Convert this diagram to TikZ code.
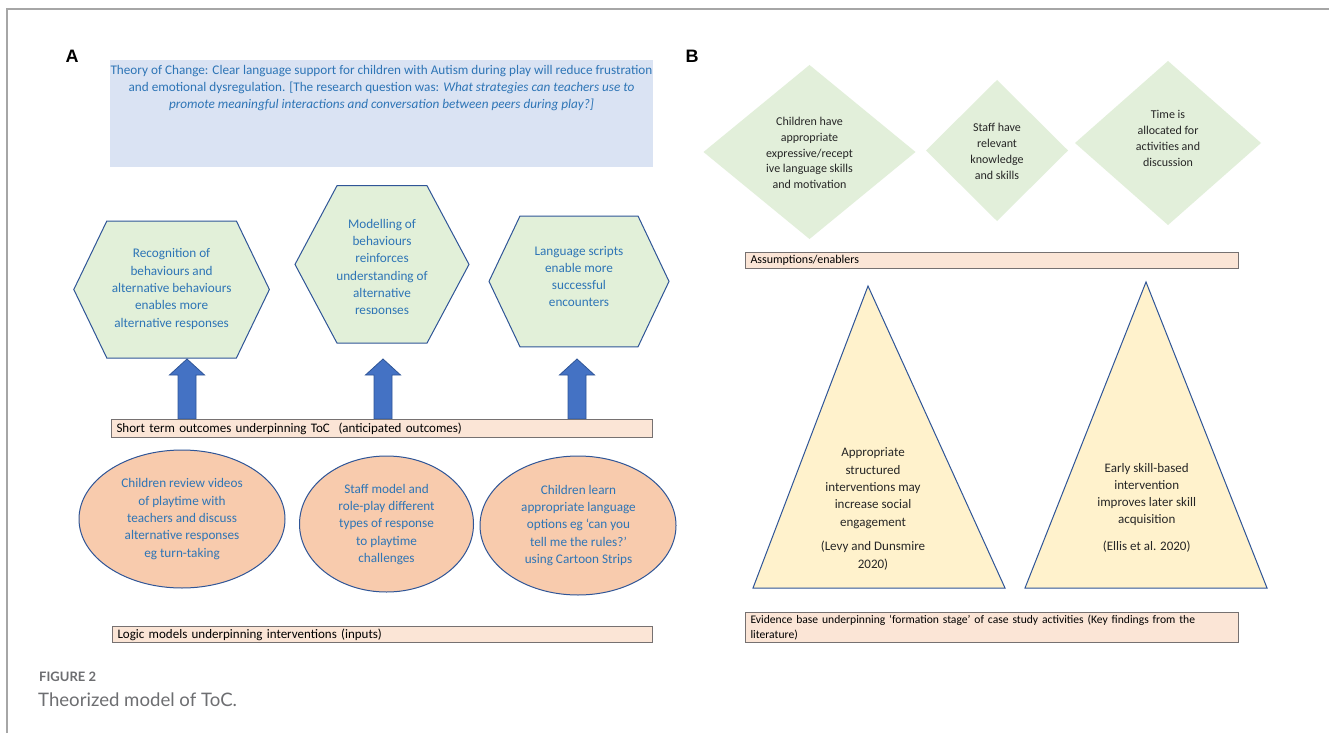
\documentclass[tikz,border=0pt]{standalone}
\usepackage{fontspec}
\setmainfont{Carlito}
\newfontfamily\arialfont{Liberation Sans}
\newfontfamily\capfont{Lato}
\usetikzlibrary{shapes.geometric}
\definecolor{txtblue}{HTML}{2E75B6}
\definecolor{hexfill}{HTML}{E2F0D9}
\definecolor{shapeline}{HTML}{2F5597}
\definecolor{ellfill}{HTML}{F8CBAD}
\definecolor{barfill}{HTML}{FBE5D6}
\definecolor{barline}{HTML}{767171}
\definecolor{tocfill}{HTML}{DAE3F3}
\definecolor{dfill}{HTML}{E2EFDA}
\definecolor{trifill}{HTML}{FFF2CC}
\definecolor{arrowfill}{HTML}{4472C4}
\definecolor{framegray}{HTML}{A6A6A6}
\definecolor{capgray}{HTML}{6D6E71}
\definecolor{darktext}{HTML}{262626}
\tikzset{
  hexstyle/.style={fill=hexfill, draw=shapeline, line width=1pt},
  ellstyle/.style={ellipse, fill=ellfill, draw=shapeline, line width=1pt, inner sep=0pt},
  barstyle/.style={rectangle, fill=barfill, draw=barline, line width=1pt, anchor=north west, align=left, inner xsep=5pt, inner ysep=0pt, font=\fontsize{13}{14.3}\selectfont},
  arrowstyle/.style={fill=arrowfill, draw=shapeline, line width=0.8pt},
  dstyle/.style={fill=dfill, draw=none},
  tristyle/.style={fill=trifill, draw=shapeline, line width=1pt, line join=miter},
  btext/.style={text=txtblue, align=center, inner sep=0pt, font=\fontsize{13.2}{17.3}\selectfont},
  dtext/.style={text=darktext, align=center, inner sep=0pt, font=\fontsize{12}{15.8}\selectfont},
  ttext/.style={text=darktext, align=center, inner sep=0pt, font=\fontsize{13}{17.3}\selectfont},
  panel/.style={font=\arialfont\bfseries\fontsize{18}{20}\selectfont, inner sep=0pt},
}
\newcommand{\hexshape}[5]{%
  \filldraw[hexstyle] (#1-#3,#2) -- (#1-#3+#5,#2-#4) -- (#1+#3-#5,#2-#4) -- (#1+#3,#2) -- (#1+#3-#5,#2+#4) -- (#1-#3+#5,#2+#4) -- cycle;}
\newcommand{\diashape}[4]{%
  \fill[dstyle] (#1-#3,#2) -- (#1,#2-#4) -- (#1+#3,#2) -- (#1,#2+#4) -- cycle;}
\newcommand{\blockarr}[1]{%
  \filldraw[arrowstyle] (#1-9,419) -- (#1+9,419) -- (#1+9,375) -- (#1+17.5,375) -- (#1,359) -- (#1-17.5,375) -- (#1-9,375) -- cycle;}
\begin{document}
\begin{tikzpicture}[x=1pt,y=-1pt]
\path[use as bounding box, fill=white] (0,0) rectangle (1329,733);
% frame
\draw[framegray, line width=1.5pt] (7,733) -- (7,9) -- (1329,9);
% panel labels
\node[panel] (labA) at (72,56) {A};
\node[panel] (labB) at (692,56) {B};
% theory of change box
\node[fill=tocfill, draw=none, anchor=north west, minimum width=543pt, minimum height=107pt, inner sep=0pt] (toc) at (110,60) {};
\node[text=txtblue, align=center, inner sep=0pt, font=\fontsize{13.2}{17}\selectfont] (toctext) at (381.5,88)
 {Theory of Change: Clear language support for children with Autism during play will reduce frustration\\
  and emotional dysregulation. [The research question was: \textit{What strategies can teachers use to}\\
  \textit{promote meaningful interactions and conversation between peers during play?]}};
% hexagons
\hexshape{171.6}{289.5}{97.8}{68.5}{33}
\hexshape{382}{264.4}{87}{78.7}{42}
\hexshape{579}{281.4}{90}{65.4}{31}
\node[btext] (h1) at (171.6,289) {Recognition of\\behaviours and\\alternative behaviours\\enables more\\alternative responses};
\begin{scope}
  \clip (290,180) rectangle (475,313);
  \node[btext] (h2) at (382,268) {Modelling of\\behaviours\\reinforces\\understanding of\\alternative\\responses};
\end{scope}
\node[btext] (h3) at (579,276.5) {Language scripts\\enable more\\successful\\encounters};
% arrows
\blockarr{187}
\blockarr{383}
\blockarr{577}
% short term bar
\node[barstyle, minimum width=541pt, minimum height=18pt, text width=531pt] (stbar) at (111,419) {Short term outcomes underpinning ToC\ \ (anticipated outcomes)};
% ellipses
\node[ellstyle, minimum width=206pt, minimum height=138pt] (e1) at (182,519) {};
\node[ellstyle, minimum width=174pt, minimum height=136pt] (e2) at (386.5,524) {};
\node[ellstyle, minimum width=196pt, minimum height=139pt] (e3) at (578,525.5) {};
\node[btext] (e1t) at (182,519) {Children review videos\\of playtime with\\teachers and discuss\\alternative responses\\eg turn-taking};
\node[btext] (e2t) at (386.5,524.5) {Staff model and\\role-play different\\types of response\\to playtime\\challenges};
\node[btext] (e3t) at (578.5,525.5) {Children learn\\appropriate language\\options eg `can you\\tell me the rules?'\\using Cartoon Strips};
% logic bar
\node[barstyle, minimum width=540pt, minimum height=16pt, text width=530pt] (lbar) at (112,626) {Logic models underpinning interventions (inputs)};
% caption
\node[anchor=west, inner sep=0pt, text=capgray, font=\capfont\bfseries\fontsize{13}{15}\selectfont] (figlab) at (39,677) {FIGURE 2};
\node[anchor=west, inner sep=0pt, text=capgray, font=\capfont\fontsize{18.6}{20}\selectfont] (figcap) at (38,700) {Theorized model of ToC.};
% diamonds
\diashape{809.5}{152}{106}{87}
\diashape{997}{150.5}{71}{70.5}
\diashape{1168}{143}{93}{82}
\node[dtext] (d1) at (809.5,153) {Children have\\appropriate\\expressive/recept\\ive language skills\\and motivation};
\node[dtext] (d2) at (997,151.5) {Staff have\\relevant\\knowledge\\and skills};
\node[dtext] (d3) at (1168,138.5) {Time is\\allocated for\\activities and\\discussion};
% assumptions bar
\node[barstyle, minimum width=493pt, minimum height=16pt, text width=483pt, font=\fontsize{12}{14.3}\selectfont] (abar) at (745,252) {Assumptions/enablers};
% triangles
\filldraw[tristyle] (868,286) -- (1005,588) -- (753,588) -- cycle;
\filldraw[tristyle] (1146,282) -- (1267,588) -- (1025,588) -- cycle;
\node[ttext] (t1) at (873,509) {Appropriate\\structured\\interventions may\\increase social\\engagement\\[7.5pt](Levy and Dunsmire\\2020)};
\node[ttext] (t2) at (1146.7,507.5) {Early skill-based\\intervention\\improves later skill\\acquisition\\[9pt](Ellis et al. 2020)};
% evidence bar
\node[barstyle, minimum width=493pt, minimum height=30pt, text width=483pt, font=\fontsize{11.6}{14.3}\selectfont] (ebar) at (745,612) {Evidence base underpinning `formation stage' of case study activities (Key findings from the\\literature)};
\end{tikzpicture}
\end{document}
